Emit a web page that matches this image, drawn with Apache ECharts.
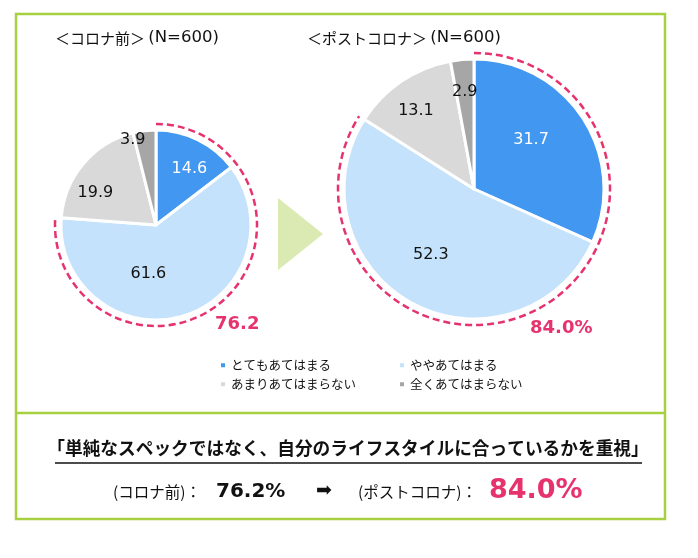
<!DOCTYPE html>
<html>
<head>
<meta charset="utf-8">
<script src="https://cdn.jsdelivr.net/npm/echarts@6/dist/echarts.min.js"></script>
<style>
html,body{margin:0;padding:0;background:#fff;}
#chart{width:698px;height:558px;}
</style>
</head>
<body>
<div id="chart"></div>
<script>
// ---- data ----
const categories = ['とてもあてはまる', 'ややあてはまる', 'あまりあてはまらない', '全くあてはまらない'];
const beforeValues = [14.6, 61.6, 19.9, 3.9];
const afterValues = [31.7, 52.3, 13.1, 2.9];
const panelNames = ['＜コロナ前＞', '＜ポストコロナ＞'];
const panelN = ['(N=600)', '(N=600)'];
const headline = '「単純なスペックではなく、自分のライフスタイルに合っているかを重視」';
const beforeLabel = '(コロナ前)：';
const afterLabel = '(ポストコロナ)：';

// ---- styles ----
const colors = ['#4298f1', '#c4e2fb', '#d9d9d9', '#a6a6a6'];
const labelColors = ['#ffffff', '#111111', '#111111', '#111111'];
const pink = '#e6336e';
const green = '#a6d03f';
const jp = '"Noto Sans CJK JP", sans-serif';
const num = '"DejaVu Sans", Verdana, sans-serif';
const beforeNudge = [[11, -11], [-22, 0], [-22, 0], [-17, -35]];
const afterNudge = [[0, -12], [-11, 6], [-20, -22], [-3, -29]];
const pies = [
  { center: [156, 225], r: 95, values: beforeValues, nudge: beforeNudge },
  { center: [474, 189], r: 130, values: afterValues, nudge: afterNudge }
];

const chart = echarts.init(document.getElementById('chart'), null, { renderer: 'canvas' });

function topTwo(values) { return values[0] + values[1]; }

const series = pies.map((p, si) => ({
  type: 'pie',
  center: p.center,
  radius: [0, p.r],
  startAngle: 90,
  clockwise: true,
  animation: false,
  silent: true,
  avoidLabelOverlap: false,
  itemStyle: { borderColor: '#ffffff', borderWidth: 3 },
  label: {
    show: true, position: 'inside', fontFamily: num, fontSize: 16,
    formatter: (d) => d.value.toFixed(1)
  },
  labelLine: { show: false },
  labelLayout: (params) => ({ dx: p.nudge[params.dataIndex][0], dy: p.nudge[params.dataIndex][1] }),
  emphasis: { disabled: true },
  data: categories.map((c, i) => ({
    name: c, value: p.values[i],
    itemStyle: { color: colors[i] },
    label: { color: labelColors[i] }
  }))
}));

const legendPos = [[219, 359], [398, 359], [219, 378], [398, 378]];
const legends = categories.map((c, i) => ({
  data: [c], left: legendPos[i][0], top: legendPos[i][1], padding: 0,
  icon: 'rect', itemWidth: 6, itemHeight: 6, itemGap: 5,
  selectedMode: false,
  textStyle: { fontFamily: jp, fontSize: 12.5, color: '#111' }
}));

function txt(text, x, y, font, fill, align) {
  return {
    type: 'text', x: x, y: y, silent: true,
    style: { text: text, font: font, fill: fill,
      textAlign: align || 'left', align: align || 'left',
      textVerticalAlign: 'middle', verticalAlign: 'middle' }
  };
}
function richTitle(name, n, x, y) {
  return {
    type: 'text', x: x, y: y, silent: true,
    style: {
      text: '{a|' + name + '} {b|' + n + '}',
      align: 'left', verticalAlign: 'middle', textAlign: 'left', textVerticalAlign: 'middle',
      rich: {
        a: { fontFamily: jp, fontSize: 15, fill: '#111', color: '#111' },
        b: { fontFamily: num, fontSize: 16.5, fill: '#111', color: '#111' }
      }
    }
  };
}

const bSum = topTwo(beforeValues), aSum = topTwo(afterValues);
const graphics = [
  { type: 'rect', shape: { x: 16, y: 14, width: 649, height: 505 }, style: { fill: null, stroke: green, lineWidth: 2.5 }, silent: true },
  { type: 'line', shape: { x1: 16, y1: 413, x2: 665, y2: 413 }, style: { stroke: green, lineWidth: 2.5 }, silent: true },
  { type: 'polygon', shape: { points: [[278, 198], [323, 234], [278, 270]] }, style: { fill: '#dbeab3' }, silent: true },
  richTitle(panelNames[0], panelN[0], 55, 38),
  richTitle(panelNames[1], panelN[1], 307, 38),
  txt(bSum.toFixed(1), 215, 324, 'bold 18px ' + num, pink),
  txt(aSum.toFixed(1) + '%', 530, 328, 'bold 18px ' + num, pink),
  txt(headline, 348, 448, 'bold 17.7px ' + jp, '#111', 'center'),
  { type: 'line', shape: { x1: 55, y1: 463, x2: 642, y2: 463 }, style: { stroke: '#111', lineWidth: 1.3 }, silent: true },
  txt(beforeLabel, 113, 492, '15.5px ' + jp, '#111'),
  txt(bSum.toFixed(1) + '%', 216, 492, 'bold 20px ' + num, '#111'),
  txt('➡', 316, 491, '19px ' + num, '#111'),
  txt(afterLabel, 358, 492, '15.5px ' + jp, '#111'),
  txt(aSum.toFixed(1) + '%', 489, 491, 'bold 27px ' + num, pink)
];
// dashed highlight arcs spanning the first two categories
pies.forEach((p) => {
  const frac = topTwo(p.values) / 100;
  graphics.push({
    type: 'arc', silent: true,
    shape: { cx: p.center[0], cy: p.center[1], r: p.r + 6, startAngle: -Math.PI / 2, endAngle: -Math.PI / 2 + 2 * Math.PI * frac, clockwise: true },
    style: { stroke: pink, lineWidth: 2.5, lineDash: [7, 4], fill: null }
  });
});

chart.setOption({
  backgroundColor: '#ffffff',
  animation: false,
  legend: legends,
  series: series,
  graphic: { elements: graphics }
});
</script>
</body>
</html>
